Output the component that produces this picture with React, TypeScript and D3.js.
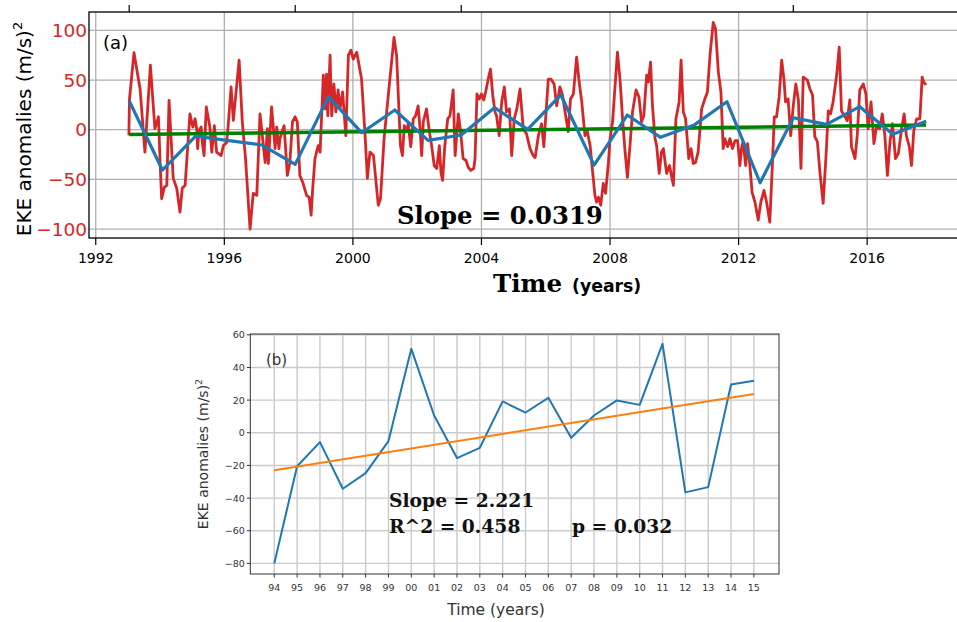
import React from 'react';
import * as d3 from 'd3';

// ---- Panel (a): monthly EKE anomaly series, [decimal year, value in (m/s)^2]
const monthlyEke: [number, number][] = [
  [1993.03, -5.7], [1993.05, 31], [1993.19, 77.5], [1993.38, 41], [1993.53, -22.5], [1993.7, 65], [1993.84, 1], [1993.95, 13],
  [1994.01, -39], [1994.05, -69.5], [1994.13, -58], [1994.21, -56], [1994.28, 29.5], [1994.41, -49], [1994.52, -59], [1994.62, -83],
  [1994.69, -59], [1994.78, -56], [1994.93, 16], [1995.02, 2.7], [1995.09, 11], [1995.14, 1], [1995.17, -19], [1995.21, -1],
  [1995.28, 2.7], [1995.32, -14], [1995.37, -26], [1995.44, 23], [1995.55, 2.7], [1995.61, -22.5], [1995.69, 4], [1995.76, -22.5],
  [1995.9, -26], [1995.97, -16], [1996.07, -13], [1996.12, 4], [1996.21, 43], [1996.28, 9.4], [1996.46, 70], [1996.56, 7.7],
  [1996.66, -29], [1996.8, -100], [1996.9, -64], [1997.01, -66], [1997.11, 16], [1997.27, -33], [1997.34, 1], [1997.37, -34],
  [1997.47, 23], [1997.58, -19], [1997.63, 2.7], [1997.7, -19], [1997.73, -9], [1997.86, 4], [1997.96, -46], [1998.04, -33],
  [1998.12, 8], [1998.2, 13], [1998.27, 8], [1998.35, -46], [1998.44, -53], [1998.56, -66], [1998.64, -68], [1998.7, -86],
  [1998.75, -59], [1998.82, -29], [1998.92, -16], [1998.98, -22.5], [1999.08, 55], [1999.14, 21], [1999.18, 56], [1999.22, 14],
  [1999.29, 75], [1999.34, 14], [1999.41, 46], [1999.47, 18], [1999.54, 40], [1999.6, 21], [1999.68, 38], [1999.78, -6],
  [1999.86, 75], [1999.94, 80], [2000.01, 71], [2000.12, 78], [2000.27, 51], [2000.38, -6], [2000.45, -49], [2000.53, -22.5],
  [2000.64, -26], [2000.79, -76], [2000.86, -69], [2000.97, -9], [2001.15, 51], [2001.28, 93], [2001.36, 75], [2001.48, -16],
  [2001.54, -26], [2001.6, 4], [2001.67, -2], [2001.72, 6], [2001.8, -17], [2001.88, 11], [2001.95, 14], [2002.03, 24],
  [2002.09, 1], [2002.14, -26], [2002.19, 8], [2002.29, 21], [2002.38, -2], [2002.45, -16], [2002.53, -36], [2002.61, -39],
  [2002.69, -16], [2002.74, -43], [2002.79, -51], [2002.86, -16], [2002.95, 11], [2003.02, 14], [2003.12, 40], [2003.18, -26],
  [2003.28, 16], [2003.35, -2], [2003.43, -29], [2003.52, -31], [2003.59, -38], [2003.67, -41], [2003.76, -39], [2003.8, -29],
  [2003.86, 36], [2003.93, 31], [2004.0, 36], [2004.07, 30], [2004.13, 38], [2004.21, 51], [2004.28, 61], [2004.35, 35],
  [2004.42, 18], [2004.47, 14], [2004.55, -6], [2004.63, 28], [2004.71, 43], [2004.78, 18], [2004.87, 21], [2004.94, -26],
  [2005.02, 11], [2005.1, 21], [2005.2, 41], [2005.3, 1], [2005.4, -4], [2005.51, -19], [2005.61, -26], [2005.67, -28],
  [2005.77, -6], [2005.87, 6], [2005.94, -17], [2006.01, 18], [2006.08, 51], [2006.16, 51], [2006.26, 46], [2006.34, 24],
  [2006.44, 43], [2006.52, 35], [2006.6, 18], [2006.7, -2], [2006.77, 31], [2006.86, 36], [2006.96, 73], [2007.04, 48],
  [2007.12, 28], [2007.22, -6], [2007.29, -1], [2007.38, -16], [2007.46, -43], [2007.53, -66], [2007.58, -73], [2007.64, -68],
  [2007.71, -76], [2007.79, -54], [2007.86, -64], [2007.95, -33], [2008.0, -9], [2008.08, 8], [2008.15, 41], [2008.23, 78],
  [2008.31, 51], [2008.39, 11], [2008.46, -19], [2008.54, -48], [2008.62, -16], [2008.7, 18], [2008.81, 40], [2008.9, 33],
  [2008.98, 8], [2009.05, 14], [2009.14, 55], [2009.19, 48], [2009.26, 68], [2009.32, 24], [2009.4, -9], [2009.45, -16],
  [2009.53, -44], [2009.6, -22.5], [2009.66, -19], [2009.76, -44], [2009.85, -36], [2009.97, -56], [2010.05, 11], [2010.15, 28],
  [2010.21, 70], [2010.28, 18], [2010.35, 11], [2010.45, -29], [2010.52, -19], [2010.59, -34], [2010.66, -33], [2010.74, -22.5],
  [2010.85, 21], [2010.95, 31], [2011.03, 38], [2011.11, 75], [2011.21, 108], [2011.28, 102], [2011.37, 58], [2011.45, 38],
  [2011.52, -19], [2011.57, -9], [2011.66, -17], [2011.73, -9], [2011.81, -19], [2011.89, -11], [2011.97, -11], [2012.04, -36],
  [2012.09, -19], [2012.14, -12], [2012.22, -36], [2012.28, -14], [2012.35, -36], [2012.42, -63], [2012.51, -73], [2012.61, -91],
  [2012.69, -73], [2012.79, -61], [2012.87, -73], [2012.97, -93], [2013.05, -36], [2013.11, 13], [2013.18, 13], [2013.26, 33],
  [2013.34, 70], [2013.41, 51], [2013.46, 28], [2013.54, 31], [2013.62, -6], [2013.7, 24], [2013.78, 46], [2013.86, 30],
  [2013.94, -39], [2014.01, 53], [2014.14, 50], [2014.22, 41], [2014.3, 35], [2014.37, -7], [2014.45, -12], [2014.53, -43],
  [2014.63, -74], [2014.72, -26], [2014.79, 19], [2014.86, 16], [2014.94, 28], [2015.05, 55], [2015.13, 83], [2015.2, 19],
  [2015.31, 13], [2015.38, 9], [2015.46, 30], [2015.51, -17], [2015.62, -29], [2015.69, -6], [2015.77, 40], [2015.88, 46],
  [2015.96, 36], [2016.03, 1], [2016.12, 28], [2016.21, -14], [2016.29, 3], [2016.39, 1], [2016.47, 16], [2016.55, -6],
  [2016.63, -46], [2016.71, -12], [2016.79, 6], [2016.88, -29], [2016.97, -24], [2017.07, 1], [2017.15, 16], [2017.22, -6],
  [2017.31, -17], [2017.38, -36], [2017.45, -1], [2017.54, 11], [2017.64, 11], [2017.71, 53], [2017.76, 48], [2017.83, 45],
];

// Annual means plotted against their own (top) index axis
const annualEkeA: number[] = [
  29.2, -40.6, -6.4, -11, -15.4, -34.9, 33.3, -3, 19.9, -10.7, -5.3, 22.2, 0.4,
  35, -35.6, 14.8, -7.7, 4.4, 28.2, -53.4, 12.1, 5.4, 23.2, -4.6, 8.5,
];

// Linear trend of the monthly series (slope per month)
const trendSlopeA = 0.0319;
const trendStartA = -4.8;
const trendSpanA: [number, number] = [1993.04, 2017.83];

const yearTicksA = [1992, 1996, 2000, 2004, 2008, 2012, 2016];
const valueTicksA = [-100, -50, 0, 50, 100];
const indexTicksA = [0, 5, 10, 15, 20];

// ---- Panel (b): yearly anomalies 1994-2015
const yearLabelsB = ['94', '95', '96', '97', '98', '99', '00', '01', '02', '03', '04',
  '05', '06', '07', '08', '09', '10', '11', '12', '13', '14', '15'];
const annualEkeB: number[] = [
  -80, -20.5, -5.7, -34.3, -24.7, -5.1, 51.4, 10.6, -15.5, -9.2, 19.2,
  12.4, 21.4, -3.1, 10.6, 19.8, 17.1, 54.5, -36.5, -33.3, 29.6, 31.8,
];
const slopeB = 2.221;
const interceptB = -22.9;
const valueTicksB = [-80, -60, -40, -20, 0, 20, 40, 60];

const SANS = "'DejaVu Sans', sans-serif";
const SERIF = "'DejaVu Serif', serif";
const fmt = (v: number) => String(v).replace('-', '\u2212');

export default function App() {
  const W = 957;
  const H = 622;

  // panel (a) frame
  const a = { left: 89, right: 962, top: 12, bottom: 238 };
  const xA = d3.scaleLinear().domain([1991.79, 2018.95]).range([a.left, a.right]);
  const yA = d3.scaleLinear().domain([-109, 118.5]).range([a.bottom, a.top]);
  const xIdx = d3.scaleLinear().domain([-1.21, 25.08]).range([a.left, a.right]);

  const redPath = d3.line<[number, number]>().x(d => xA(d[0])).y(d => yA(d[1]))(monthlyEke) || '';
  const bluePathA = d3.line<number>().x((_, i) => xIdx(i)).y(d => yA(d))(annualEkeA) || '';
  const nMonths = Math.round((trendSpanA[1] - trendSpanA[0]) * 12);
  const greenPts: [number, number][] = [
    [trendSpanA[0], trendStartA],
    [trendSpanA[1], trendStartA + trendSlopeA * nMonths],
  ];
  const greenPath = d3.line<[number, number]>().x(d => xA(d[0])).y(d => yA(d[1]))(greenPts) || '';

  // panel (b) frame
  const b = { left: 250.3, right: 779, top: 334, bottom: 574 };
  const xB = d3.scaleLinear().domain([-1.05, 22.1]).range([b.left, b.right]);
  const yB = d3.scaleLinear().domain([-86.5, 60.5]).range([b.bottom, b.top]);
  const bluePathB = d3.line<number>().x((_, i) => xB(i)).y(d => yB(d))(annualEkeB) || '';
  const lastB = annualEkeB.length - 1;
  const orangePath = d3.line<number>().x(i => xB(i)).y(i => yB(interceptB + slopeB * i))([0, lastB]) || '';

  return (
    <svg width={W} height={H} viewBox={`0 0 ${W} ${H}`}
      style={{ position: 'absolute', left: 0, top: 0, background: '#fff' }}>
      <defs>
        <clipPath id="clipA"><rect x={a.left} y={a.top} width={a.right - a.left} height={a.bottom - a.top} /></clipPath>
        <clipPath id="clipB"><rect x={b.left} y={b.top} width={b.right - b.left} height={b.bottom - b.top} /></clipPath>
      </defs>

      {/* ===== Panel (a) ===== */}
      <g>
        {yearTicksA.map(t => (
          <line key={'gx' + t} x1={xA(t)} x2={xA(t)} y1={a.top} y2={a.bottom} stroke="#b0b0b0" strokeWidth={1.3} />
        ))}
        {valueTicksA.map(t => (
          <line key={'gy' + t} x1={a.left} x2={a.right} y1={yA(t)} y2={yA(t)} stroke="#b0b0b0" strokeWidth={1.3} />
        ))}
        <g clipPath="url(#clipA)">
          <path d={redPath} fill="none" stroke="#d62728" strokeWidth={2.8} strokeLinejoin="round" />
          <path d={greenPath} fill="none" stroke="#008000" strokeWidth={3.6} />
          <path d={bluePathA} fill="none" stroke="#1f77b4" strokeWidth={3.2} strokeLinejoin="round" />
        </g>
        <rect x={a.left} y={a.top} width={a.right - a.left} height={a.bottom - a.top} fill="none" stroke="#000" strokeWidth={1.3} />
        {yearTicksA.map(t => (
          <g key={'tx' + t}>
            <line x1={xA(t)} x2={xA(t)} y1={a.bottom} y2={a.bottom + 7} stroke="#000" strokeWidth={1.2} />
            <text x={xA(t)} y={263} textAnchor="middle" fontFamily={SANS} fontSize={14} fill="#000">{t}</text>
          </g>
        ))}
        {indexTicksA.map(t => (
          <line key={'ti' + t} x1={xIdx(t)} x2={xIdx(t)} y1={a.top} y2={a.top - 7} stroke="#000" strokeWidth={1.2} />
        ))}
        {valueTicksA.map(t => (
          <text key={'ty' + t} x={87} y={yA(t)} dy="0.36em" textAnchor="end" fontFamily={SANS} fontSize={18.5} fill="#d62728">{fmt(t)}</text>
        ))}
        <text transform={`translate(31,${(a.top + a.bottom) / 2 + 4}) rotate(-90)`} textAnchor="middle" fontFamily={SANS} fontSize={20} fill="#000">
          EKE anomalies (m/s)<tspan fontSize={13} dy={-9}>2</tspan>
        </text>
        <text x={103} y={49} fontFamily={SANS} fontSize={18} fill="#000">(a)</text>
        <text x={397} y={224} fontFamily={SERIF} fontWeight="bold" fontSize={24.3} fill="#000">Slope = 0.0319</text>
        <text x={493} y={292} fontFamily={SERIF} fontWeight="bold" fontSize={24.5} fill="#000">Time</text>
        <text x={572} y={292} fontFamily={SANS} fontWeight="bold" fontSize={17.3} fill="#000">(years)</text>
      </g>

      {/* ===== Panel (b) ===== */}
      <g>
        {yearLabelsB.map((_, i) => (
          <line key={'bgx' + i} x1={xB(i)} x2={xB(i)} y1={b.top} y2={b.bottom} stroke="#cbcbcb" strokeWidth={1.4} />
        ))}
        {valueTicksB.map(t => (
          <line key={'bgy' + t} x1={b.left} x2={b.right} y1={yB(t)} y2={yB(t)} stroke="#cbcbcb" strokeWidth={1.4} />
        ))}
        <g clipPath="url(#clipB)">
          <path d={bluePathB} fill="none" stroke="#1f77b4" strokeWidth={2} strokeLinejoin="round" />
          <path d={orangePath} fill="none" stroke="#ff7f0e" strokeWidth={2} />
        </g>
        <rect x={b.left} y={b.top} width={b.right - b.left} height={b.bottom - b.top} fill="none" stroke="#333" strokeWidth={1} />
        {yearLabelsB.map((lab, i) => (
          <g key={'btx' + i}>
            <line x1={xB(i)} x2={xB(i)} y1={b.bottom} y2={b.bottom + 3.5} stroke="#333" strokeWidth={1} />
            <text x={xB(i)} y={590.5} textAnchor="middle" fontFamily={SANS} fontSize={9.5} fill="#333">{lab}</text>
          </g>
        ))}
        {valueTicksB.map(t => (
          <g key={'bty' + t}>
            <line x1={b.left - 3.5} x2={b.left} y1={yB(t)} y2={yB(t)} stroke="#333" strokeWidth={1} />
            <text x={b.left - 5.5} y={yB(t)} dy="0.36em" textAnchor="end" fontFamily={SANS} fontSize={9.5} fill="#333">{fmt(t)}</text>
          </g>
        ))}
        <text transform={`translate(208,${(b.top + b.bottom) / 2}) rotate(-90)`} textAnchor="middle" fontFamily={SANS} fontSize={14} fill="#333">
          EKE anomalies (m/s)<tspan fontSize={9.5} dy={-6}>2</tspan>
        </text>
        <text x={496} y={615} textAnchor="middle" fontFamily={SANS} fontSize={15.5} fill="#333">Time (years)</text>
        <text x={266} y={365} fontFamily={SANS} fontSize={15} fill="#333">(b)</text>
        <text x={389} y={507} fontFamily={SERIF} fontWeight="bold" fontSize={18.7} fill="#111">Slope = 2.221</text>
        <text x={389} y={533} fontFamily={SERIF} fontWeight="bold" fontSize={18.7} fill="#111">R^2 = 0.458</text>
        <text x={572} y={533} fontFamily={SERIF} fontWeight="bold" fontSize={18.7} fill="#111">p = 0.032</text>
      </g>
    </svg>
  );
}
